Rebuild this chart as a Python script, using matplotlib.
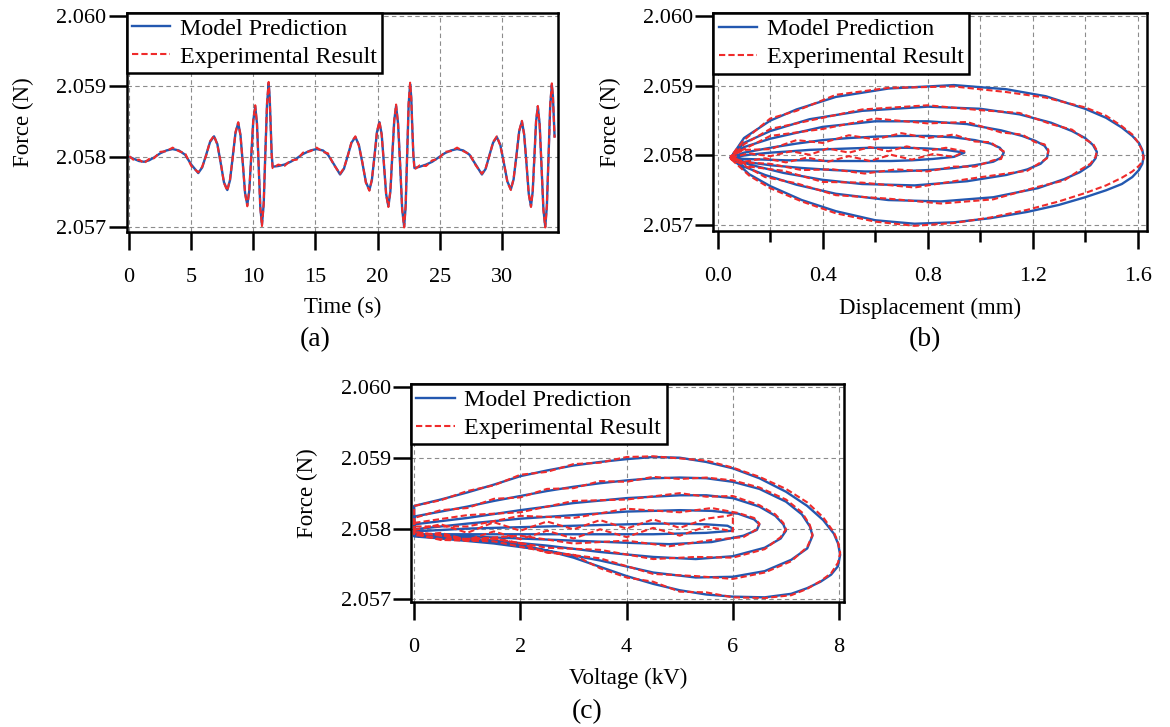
# force response: time trace, force-displacement loops, force-voltage loops

import numpy as np
import matplotlib.pyplot as plt
from matplotlib.ticker import MultipleLocator, FormatStrFormatter

plt.rcParams['font.family'] = ['Liberation Serif', 'DejaVu Serif']

# ---- (a) force vs time ----
time_a = [0.0, 0.4, 0.8, 1.2, 1.6, 2.0, 2.5, 3.0, 3.5, 4.0, 4.5, 5.0, 5.56,
          5.88, 6.20, 6.51, 6.83, 7.10, 7.37, 7.63, 7.90, 8.12, 8.34, 8.56, 8.78,
          8.96, 9.15, 9.33, 9.51, 9.67, 9.83, 9.99, 10.15, 10.29, 10.42, 10.56, 10.69,
          10.83, 10.96, 11.10, 11.23, 11.31, 11.39, 11.47, 11.55,
          12.0, 12.5, 13.0, 13.5, 14.0, 14.6, 15.1, 15.6, 16.0, 16.5, 16.98,
          17.29, 17.60, 17.90, 18.21, 18.49, 18.78, 19.06, 19.34, 19.54, 19.75, 19.95, 20.15,
          20.33, 20.51, 20.69, 20.87, 21.03, 21.18, 21.34, 21.49, 21.65, 21.82, 21.98, 22.14,
          22.26, 22.38, 22.50, 22.62, 22.71, 22.79, 22.88, 22.97,
          23.4, 23.9, 24.4, 24.9, 25.4, 25.9, 26.4, 26.9, 27.4, 27.9, 28.4,
          28.70, 29.00, 29.30, 29.60, 29.88, 30.17, 30.45, 30.73, 30.95, 31.18, 31.40, 31.62,
          31.80, 31.99, 32.17, 32.35, 32.49, 32.63, 32.76, 32.90, 33.05, 33.20, 33.35, 33.50,
          33.63, 33.77, 33.90, 34.03, 34.12, 34.25]
model_a = [2.05800, 2.05797, 2.05794, 2.05793, 2.05795, 2.05799, 2.05805, 2.05809, 2.05811, 2.05809, 2.05803, 2.05789, 2.05777,
           2.05785, 2.05803, 2.05821, 2.05829, 2.05818, 2.05791, 2.05764, 2.05753, 2.05767, 2.05800, 2.05834, 2.05848,
           2.05831, 2.05790, 2.05749, 2.05732, 2.05752, 2.05802, 2.05851, 2.05871, 2.05847, 2.05788, 2.05728, 2.05704,
           2.05733, 2.05804, 2.05875, 2.05904, 2.05885, 2.05845, 2.05805, 2.05786,
           2.05787, 2.05789, 2.05793, 2.05798, 2.05804, 2.05809, 2.05811, 2.05809, 2.05803, 2.05789, 2.05775,
           2.05783, 2.05802, 2.05820, 2.05828, 2.05817, 2.05791, 2.05764, 2.05753, 2.05767, 2.05801, 2.05835, 2.05849,
           2.05832, 2.05790, 2.05747, 2.05730, 2.05751, 2.05801, 2.05851, 2.05872, 2.05847, 2.05787, 2.05726, 2.05701,
           2.05730, 2.05802, 2.05874, 2.05903, 2.05884, 2.05843, 2.05803, 2.05784,
           2.05786, 2.05789, 2.05793, 2.05799, 2.05805, 2.05809, 2.05811, 2.05809, 2.05803, 2.05789, 2.05775,
           2.05783, 2.05802, 2.05820, 2.05828, 2.05817, 2.05791, 2.05765, 2.05754, 2.05768, 2.05802, 2.05836, 2.05850,
           2.05832, 2.05790, 2.05748, 2.05730, 2.05751, 2.05801, 2.05850, 2.05871, 2.05846, 2.05786, 2.05726, 2.05701,
           2.05730, 2.05802, 2.05873, 2.05902, 2.05885, 2.05829]
exp_a = [2.05801, 2.05795, 2.05796, 2.05791, 2.05797, 2.05798, 2.05807, 2.05808, 2.05813, 2.05808, 2.05805, 2.05787, 2.05778,
         2.05786, 2.05802, 2.05822, 2.05830, 2.05817, 2.05792, 2.05763, 2.05752, 2.05768, 2.05799, 2.05835, 2.05849,
         2.05830, 2.05791, 2.05748, 2.05730, 2.05753, 2.05801, 2.05852, 2.05873, 2.05846, 2.05789, 2.05727, 2.05702,
         2.05734, 2.05803, 2.05877, 2.05906, 2.05883, 2.05846, 2.05803, 2.05784,
         2.05789, 2.05787, 2.05795, 2.05796, 2.05806, 2.05808, 2.05813, 2.05807, 2.05805, 2.05788, 2.05776,
         2.05784, 2.05801, 2.05821, 2.05829, 2.05816, 2.05792, 2.05763, 2.05752, 2.05768, 2.05800, 2.05836, 2.05850,
         2.05831, 2.05791, 2.05746, 2.05729, 2.05752, 2.05800, 2.05852, 2.05874, 2.05846, 2.05788, 2.05725, 2.05700,
         2.05731, 2.05801, 2.05876, 2.05905, 2.05883, 2.05844, 2.05802, 2.05782,
         2.05788, 2.05787, 2.05795, 2.05797, 2.05807, 2.05808, 2.05813, 2.05808, 2.05804, 2.05788, 2.05776,
         2.05784, 2.05801, 2.05821, 2.05829, 2.05816, 2.05792, 2.05764, 2.05753, 2.05769, 2.05801, 2.05837, 2.05851,
         2.05831, 2.05791, 2.05747, 2.05729, 2.05752, 2.05800, 2.05851, 2.05872, 2.05845, 2.05787, 2.05725, 2.05700,
         2.05731, 2.05801, 2.05874, 2.05904, 2.05884, 2.05827]

# ---- (b) force vs displacement, loops from inner (5) to outer (1) ----
disp_b5 = [0.05, 0.12, 0.20, 0.28, 0.35, 0.42, 0.50, 0.58, 0.65, 0.72, 0.80, 0.87, 0.94,
           0.90, 0.82, 0.74, 0.66, 0.58, 0.50, 0.42, 0.34, 0.26, 0.18, 0.10, 0.05]
model_b5 = [2.05797, 2.05801, 2.05804, 2.05806, 2.05808, 2.05809, 2.05810, 2.05811, 2.05811, 2.05811, 2.05810, 2.05808, 2.05804,
            2.05798, 2.05795, 2.05793, 2.05792, 2.05792, 2.05792, 2.05792, 2.05793, 2.05793, 2.05794, 2.05795, 2.05797]
exp_b5 = [2.05797, 2.05803, 2.05799, 2.05806, 2.05801, 2.05810, 2.05804, 2.05812, 2.05806, 2.05813, 2.05807, 2.05811, 2.05806,
          2.05798, 2.05802, 2.05794, 2.05801, 2.05792, 2.05799, 2.05791, 2.05797, 2.05790, 2.05796, 2.05791, 2.05797]

disp_b4 = [0.05, 0.10, 0.20, 0.30, 0.40, 0.50, 0.60, 0.70, 0.80, 0.90, 0.98, 1.04, 1.075, 1.09,
           1.08, 1.05, 0.98, 0.90, 0.80, 0.68, 0.56, 0.44, 0.32, 0.20, 0.10, 0.05]
model_b4 = [2.05797, 2.05804, 2.05811, 2.05817, 2.05822, 2.05825, 2.05827, 2.05828, 2.05828, 2.05826, 2.05822, 2.05817, 2.05811, 2.05804,
            2.05797, 2.05791, 2.05786, 2.05782, 2.05779, 2.05777, 2.05777, 2.05779, 2.05782, 2.05786, 2.05791, 2.05797]
exp_b4 = [2.05799, 2.05808, 2.05809, 2.05822, 2.05818, 2.05829, 2.05823, 2.05832, 2.05825, 2.05830, 2.05820, 2.05819, 2.05809, 2.05806,
          2.05795, 2.05793, 2.05784, 2.05784, 2.05777, 2.05780, 2.05774, 2.05780, 2.05779, 2.05788, 2.05790, 2.05795]

disp_b3 = [0.05, 0.10, 0.20, 0.40, 0.60, 0.80, 0.95, 1.08, 1.16, 1.21, 1.245, 1.26,
           1.255, 1.23, 1.18, 1.10, 0.95, 0.75, 0.55, 0.40, 0.25, 0.12, 0.05]
model_b3 = [2.05797, 2.05812, 2.05824, 2.05841, 2.05849, 2.05849, 2.05845, 2.05836, 2.05828, 2.05821, 2.05814, 2.05806,
            2.05797, 2.05788, 2.05780, 2.05772, 2.05763, 2.05757, 2.05759, 2.05765, 2.05775, 2.05787, 2.05797]
exp_b3 = [2.05799, 2.05809, 2.05828, 2.05838, 2.05853, 2.05846, 2.05848, 2.05833, 2.05830, 2.05819, 2.05816, 2.05808,
          2.05796, 2.05790, 2.05778, 2.05774, 2.05766, 2.05754, 2.05761, 2.05762, 2.05778, 2.05784, 2.05799]

disp_b2 = [0.05, 0.10, 0.20, 0.35, 0.55, 0.80, 1.00, 1.15, 1.27, 1.35, 1.40, 1.43, 1.445,
           1.44, 1.42, 1.38, 1.32, 1.22, 1.05, 0.85, 0.65, 0.45, 0.30, 0.18, 0.10, 0.05]
model_b2 = [2.05797, 2.05818, 2.05835, 2.05852, 2.05864, 2.05870, 2.05867, 2.05859, 2.05847, 2.05835, 2.05825, 2.05815, 2.05805,
            2.05796, 2.05786, 2.05776, 2.05766, 2.05753, 2.05740, 2.05734, 2.05736, 2.05745, 2.05758, 2.05772, 2.05784, 2.05797]
exp_b2 = [2.05795, 2.05816, 2.05838, 2.05850, 2.05866, 2.05872, 2.05865, 2.05861, 2.05845, 2.05837, 2.05823, 2.05817, 2.05807,
          2.05798, 2.05788, 2.05779, 2.05764, 2.05755, 2.05737, 2.05731, 2.05738, 2.05743, 2.05760, 2.05769, 2.05786, 2.05795]

disp_b1 = [0.05, 0.10, 0.20, 0.30, 0.45, 0.65, 0.90, 1.10, 1.25, 1.40, 1.48, 1.54, 1.58, 1.605, 1.618, 1.623,
           1.618, 1.605, 1.58, 1.54, 1.48, 1.40, 1.30, 1.18, 1.04, 0.90, 0.75, 0.60, 0.45, 0.32, 0.20, 0.12, 0.05]
model_b1 = [2.05797, 2.05825, 2.05850, 2.05866, 2.05884, 2.05896, 2.05901, 2.05895, 2.05885, 2.05867, 2.05854, 2.05840, 2.05828, 2.05818, 2.05808, 2.05798,
            2.05788, 2.05779, 2.05769, 2.05759, 2.05750, 2.05740, 2.05729, 2.05719, 2.05710, 2.05704, 2.05702, 2.05707, 2.05720, 2.05736, 2.05756, 2.05773, 2.05797]
exp_b1 = [2.05799, 2.05822, 2.05853, 2.05864, 2.05887, 2.05897, 2.05899, 2.05891, 2.05883, 2.05869, 2.05857, 2.05842, 2.05830, 2.05817, 2.05806, 2.05796,
          2.05791, 2.05785, 2.05777, 2.05768, 2.05757, 2.05746, 2.05734, 2.05722, 2.05711, 2.05703, 2.05699, 2.05705, 2.05717, 2.05734, 2.05753, 2.05771, 2.05795]

# ---- (c) force vs voltage, loops from inner (5) to outer (1) ----
volt_c5 = [0.0, 0.5, 1.0, 1.5, 2.0, 2.5, 3.0, 3.5, 4.0, 4.5, 5.0, 5.5, 5.9, 6.0,
           6.0, 5.5, 5.0, 4.5, 4.0, 3.5, 3.0, 2.5, 2.0, 1.5, 1.0, 0.5, 0.0]
model_c5 = [2.05796, 2.05798, 2.05800, 2.05801, 2.05802, 2.05803, 2.05804, 2.05805, 2.05806, 2.05807, 2.05807, 2.05806, 2.05804, 2.05800,
            2.05797, 2.05794, 2.05793, 2.05792, 2.05792, 2.05792, 2.05792, 2.05792, 2.05792, 2.05792, 2.05792, 2.05792, 2.05792]
exp_c5 = [2.05798, 2.05806, 2.05794, 2.05809, 2.05797, 2.05810, 2.05799, 2.05812, 2.05800, 2.05813, 2.05801, 2.05814, 2.05818, 2.05820,
          2.05796, 2.05803, 2.05790, 2.05801, 2.05788, 2.05799, 2.05786, 2.05797, 2.05785, 2.05796, 2.05784, 2.05794, 2.05790]

volt_c4 = [0.0, 1.0, 2.0, 3.0, 4.0, 5.0, 5.6, 6.1, 6.4, 6.5,
           6.45, 6.2, 5.6, 4.8, 4.0, 3.0, 2.0, 1.0, 0.0]
model_c4 = [2.05799, 2.05807, 2.05814, 2.05819, 2.05824, 2.05826, 2.05825, 2.05821, 2.05813, 2.05806,
            2.05798, 2.05790, 2.05781, 2.05778, 2.05780, 2.05783, 2.05786, 2.05789, 2.05791]
exp_c4 = [2.05803, 2.05803, 2.05818, 2.05815, 2.05828, 2.05823, 2.05829, 2.05822, 2.05815, 2.05807,
          2.05799, 2.05788, 2.05784, 2.05775, 2.05783, 2.05779, 2.05790, 2.05785, 2.05795]

volt_c3 = [0.0, 1.0, 2.0, 3.0, 4.0, 5.0, 5.5, 6.0, 6.5, 6.8, 6.95, 7.0,
           6.9, 6.6, 6.0, 5.3, 4.5, 3.5, 2.5, 1.5, 0.5, 0.0]
model_c3 = [2.05806, 2.05815, 2.05826, 2.05836, 2.05843, 2.05847, 2.05847, 2.05843, 2.05831, 2.05818, 2.05806, 2.05797,
            2.05786, 2.05773, 2.05761, 2.05757, 2.05760, 2.05767, 2.05776, 2.05783, 2.05788, 2.05790]
exp_c3 = [2.05808, 2.05819, 2.05823, 2.05839, 2.05841, 2.05850, 2.05845, 2.05846, 2.05833, 2.05820, 2.05808, 2.05799,
          2.05788, 2.05771, 2.05759, 2.05760, 2.05757, 2.05770, 2.05773, 2.05786, 2.05785, 2.05793]

volt_c2 = [0.0, 0.5, 1.0, 1.5, 2.0, 2.5, 3.0, 3.5, 4.0, 4.5, 5.0, 5.5, 6.0, 6.5, 7.0, 7.3, 7.45, 7.5,
           7.4, 7.1, 6.6, 6.0, 5.3, 4.5, 3.5, 2.5, 1.5, 0.5, 0.0]
model_c2 = [2.05817, 2.05824, 2.05831, 2.05839, 2.05846, 2.05853, 2.05859, 2.05864, 2.05868, 2.05871, 2.05872, 2.05871, 2.05866, 2.05856, 2.05838, 2.05820, 2.05803, 2.05790,
            2.05772, 2.05756, 2.05740, 2.05732, 2.05731, 2.05738, 2.05755, 2.05769, 2.05779, 2.05786, 2.05789]
exp_c2 = [2.05815, 2.05826, 2.05829, 2.05842, 2.05844, 2.05856, 2.05857, 2.05867, 2.05866, 2.05873, 2.05870, 2.05872, 2.05868, 2.05858, 2.05841, 2.05823, 2.05805, 2.05791,
          2.05774, 2.05754, 2.05738, 2.05729, 2.05733, 2.05736, 2.05758, 2.05767, 2.05782, 2.05784, 2.05792]

volt_c1 = [0.0, 0.5, 1.0, 1.5, 2.0, 2.5, 3.0, 3.5, 4.0, 4.5, 5.0, 5.5, 6.0, 6.5, 7.0, 7.4, 7.7, 7.9, 7.98, 8.02,
           7.98, 7.85, 7.65, 7.4, 7.1, 6.6, 6.0, 5.5, 5.0, 4.5, 4.0, 3.5, 3.0, 2.5, 2.0, 1.5, 1.0, 0.5, 0.0]
model_c1 = [2.05832, 2.05841, 2.05851, 2.05862, 2.05874, 2.05882, 2.05889, 2.05894, 2.05898, 2.05901, 2.05900, 2.05894, 2.05885, 2.05871, 2.05852, 2.05832, 2.05812, 2.05793, 2.05779, 2.05763,
            2.05747, 2.05735, 2.05725, 2.05716, 2.05708, 2.05703, 2.05704, 2.05707, 2.05713, 2.05722, 2.05733, 2.05746, 2.05759, 2.05769, 2.05777, 2.05782, 2.05786, 2.05789, 2.05791]
exp_c1 = [2.05832, 2.05840, 2.05853, 2.05861, 2.05876, 2.05880, 2.05891, 2.05893, 2.05901, 2.05902, 2.05899, 2.05896, 2.05886, 2.05873, 2.05856, 2.05837, 2.05816, 2.05795, 2.05781, 2.05766,
          2.05752, 2.05737, 2.05726, 2.05715, 2.05706, 2.05702, 2.05703, 2.05710, 2.05711, 2.05725, 2.05731, 2.05744, 2.05763, 2.05766, 2.05779, 2.05786, 2.05783, 2.05791, 2.05795]

disp_b = np.concatenate([disp_b5, disp_b4, disp_b3, disp_b2, disp_b1])
model_b = np.concatenate([model_b5, model_b4, model_b3, model_b2, model_b1])
exp_b = np.concatenate([exp_b5, exp_b4, exp_b3, exp_b2, exp_b1])
volt_c = np.concatenate([volt_c5, volt_c4, volt_c3, volt_c2, volt_c1])
model_c = np.concatenate([model_c5, model_c4, model_c3, model_c2, model_c1])
exp_c = np.concatenate([exp_c5, exp_c4, exp_c3, exp_c2, exp_c1])

blue = '#2358b0'
red = '#ef2b2b'
W, H = 1170, 727

fig = plt.figure(figsize=(W/100, H/100), dpi=100)

def add_ax(left, top, right, bottom):
    # axes box given in pixels from top-left
    return fig.add_axes([left/W, 1 - bottom/H, (right - left)/W, (bottom - top)/H])

ax_a = add_ax(126.7, 12.7, 558.3, 231.7)
ax_b = add_ax(713.3, 13.3, 1146.5, 230.7)
ax_c = add_ax(411.0, 384.0, 844.4, 602.3)

def style(ax, xlabel, ylab_x, xlab_y):
    for s in ax.spines.values():
        s.set_linewidth(1.8)
    ax.tick_params(which='major', direction='out', length=13, width=1.8, labelsize=16)
    ax.tick_params(which='minor', direction='out', length=8, width=1.8)
    ax.tick_params(axis='y', pad=1.5)
    ax.tick_params(axis='x', pad=13)
    ax.set_yticks([2.057, 2.058, 2.059, 2.060])
    ax.yaxis.set_major_formatter(FormatStrFormatter('%.3f'))
    ax.grid(True, which='major', ls=(0, (4, 3)), color='#8c8c8c', lw=0.8)
    ax.set_axisbelow(True)
    ax.set_ylabel('Force (N)', fontsize=16.5)
    ax.yaxis.set_label_coords(ylab_x, 0.5)
    ax.set_xlabel(xlabel, fontsize=16.5)
    ax.xaxis.set_label_coords(0.5, xlab_y)
    leg = ax.legend(loc='upper left', borderaxespad=0, fancybox=False, edgecolor='black',
                    framealpha=1, fontsize=17.3, handlelength=1.6, handletextpad=0.4,
                    labelspacing=0.25, borderpad=0.22)
    leg.get_frame().set_linewidth(1.8)

# (a)
ax_a.plot(time_a, model_a, color=blue, lw=1.7, label='Model Prediction')
ax_a.plot(time_a, exp_a, color=red, lw=1.5, ls=(0, (3, 1.5)), label='Experimental Result')
ax_a.set_xlim(-0.2, 34.55)
ax_a.set_ylim(2.05694, 2.06004)
ax_a.set_xticks([0, 5, 10, 15, 20, 25, 30])
style(ax_a, 'Time (s)', -0.214, -0.298)

# (b)
ax_b.plot(disp_b, model_b, color=blue, lw=1.7, label='Model Prediction')
ax_b.plot(disp_b, exp_b, color=red, lw=1.5, ls=(0, (3, 1.5)), label='Experimental Result')
ax_b.set_xlim(-0.017, 1.634)
ax_b.set_ylim(2.05692, 2.06004)
ax_b.xaxis.set_major_locator(MultipleLocator(0.4))
ax_b.xaxis.set_minor_locator(MultipleLocator(0.2))
ax_b.xaxis.set_major_formatter(FormatStrFormatter('%.1f'))
ax_b.grid(True, which='minor', axis='x', ls=(0, (4, 3)), color='#8c8c8c', lw=0.8)
style(ax_b, 'Displacement (mm)', -0.212, -0.31)

# (c)
ax_c.plot(volt_c, model_c, color=blue, lw=1.7, label='Model Prediction')
ax_c.plot(volt_c, exp_c, color=red, lw=1.5, ls=(0, (3, 1.5)), label='Experimental Result')
ax_c.set_xlim(-0.06, 8.1)
ax_c.set_ylim(2.05696, 2.06004)
ax_c.set_xticks([0, 2, 4, 6, 8])
style(ax_c, 'Voltage (kV)', -0.215, -0.301)

fig.text(315/W, 1 - 340/H, '(a)', ha='center', va='center', fontsize=20)
fig.text(925/W, 1 - 340/H, '(b)', ha='center', va='center', fontsize=20)
fig.text(587/W, 1 - 712/H, '(c)', ha='center', va='center', fontsize=20)

fig.savefig('out.png', dpi=100)
